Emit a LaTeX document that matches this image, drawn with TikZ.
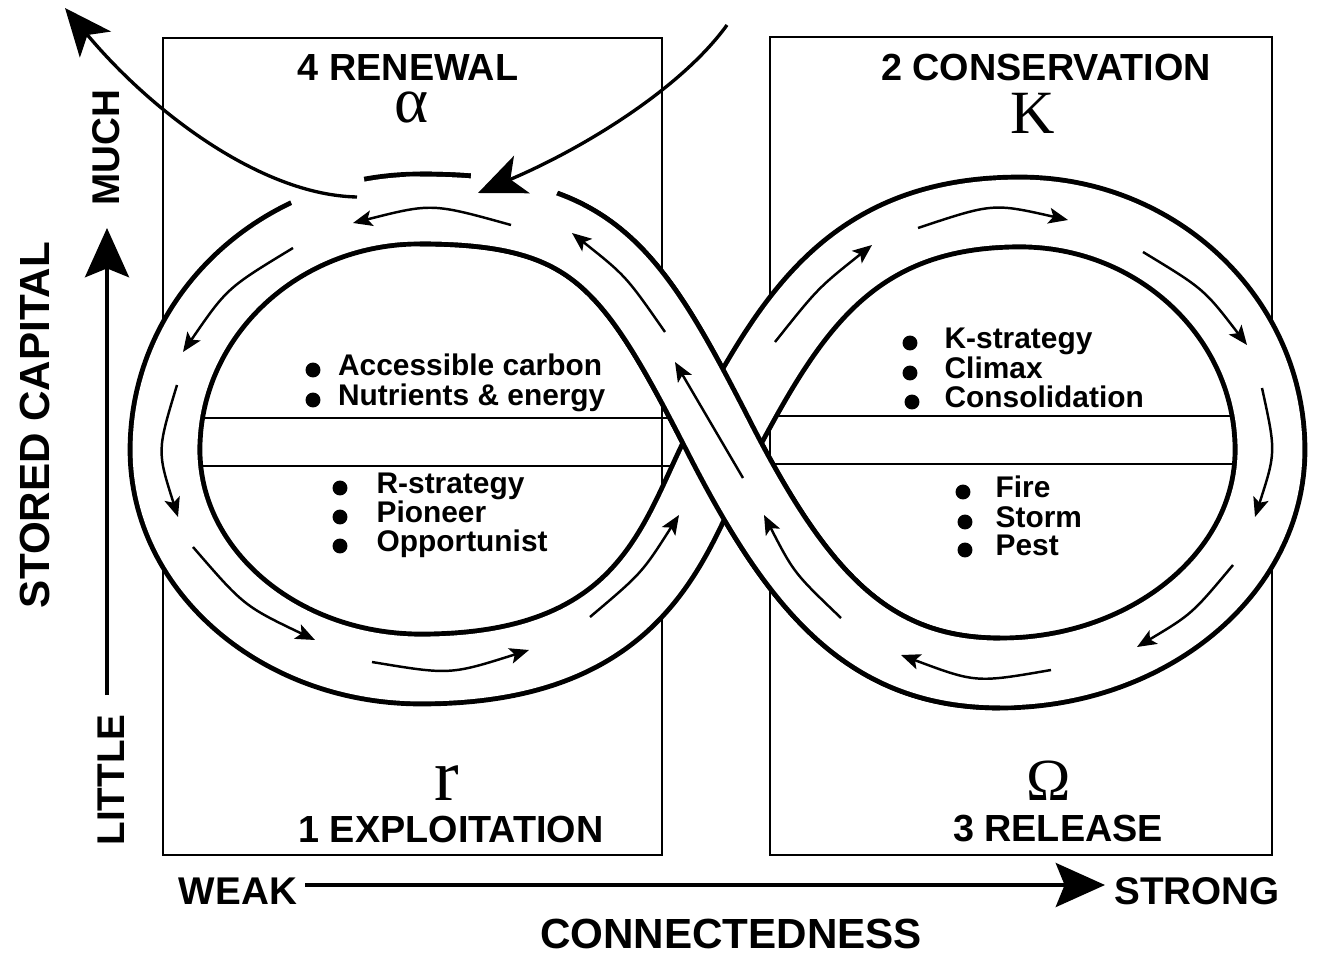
\documentclass[tikz,border=0pt]{standalone}
\usepackage{fontspec}
\usetikzlibrary{arrows.meta, positioning}
\newfontfamily\hv{Liberation Sans}
\newfontfamily\tm{Liberation Serif}
\tikzset{
	phasebox/.style ={draw=black, line width=1.5pt},
	zoneline/.style ={draw=black, line width=1.3pt},
	loopband/.style ={draw=black, line width=2.8pt, double=white, double distance=36.9pt},
	bandrim/.style  ={draw=black, line width=42.5pt},
	bandcore/.style ={draw=white, line width=36.9pt},
	gapcut/.style   ={draw=white, line width=5.5pt},
	flowarrow/.style={line width=1.4pt, -{Stealth[length=11pt, width=9pt, inset=2.5pt]}},
	bigarrow/.style ={line width=1.9pt, -{Stealth[length=27pt, width=23pt, inset=7pt]}},
	axisarrow/.style={line width=2.4pt, -{Stealth[length=28pt, width=25pt, inset=5pt]}},
	phasehead/.style={font=\hv\bfseries\fontsize{21.5}{24}\selectfont, inner sep=0pt},
	axislabel/.style={font=\hv\bfseries\fontsize{22}{24}\selectfont, inner sep=0pt},
	axistitle/.style={font=\hv\bfseries\fontsize{24}{26}\selectfont, inner sep=0pt},
	greek/.style    ={inner sep=0pt},
	bulletdot/.style={circle, fill=black, minimum size=8.5pt, inner sep=0pt},
	listitem/.style ={font=\hv\bfseries\fontsize{17}{19}\selectfont, inner sep=0pt, text height=1.38ex, text depth=0pt},
}

\begin{document}
\begin{tikzpicture}[x=0.02cm, y=-0.02cm]
	\useasboundingbox (0,0) rectangle (1322,956);
	% phase boxes and zone lines
	\draw[phasebox] (163,38) rectangle (662,855);
	\draw[phasebox] (770,37) rectangle (1272,855);
	\draw[zoneline] (195,418) -- (700,418);
	\draw[zoneline] (195,466) -- (700,466);
	\draw[zoneline] (745,416) -- (1250,416);
	\draw[zoneline] (745,464) -- (1250,464);
	% figure eight, whole band then the strand on top
	\draw[loopband] (420,209) .. controls (279,209) and (165,317) .. (165,450)
		.. controls (165,571) and (280,669) .. (421,669)
		.. controls (651,669) and (675,531) .. (722,443)
		.. controls (790,315) and (850,212) .. (1020,212)
		.. controls (1158,212) and (1270,319) .. (1270,450)
		.. controls (1270,573) and (1149,673) .. (1000,673)
		.. controls (870,673) and (800,594) .. (722,443)
		.. controls (631,265) and (595,209) .. cycle;
	\draw[bandrim] (1000,673) .. controls (870,673) and (800,594) .. (722,443)
		.. controls (631,265) and (595,209) .. (420,209);
	\draw[bandcore] (1014,673) -- (1000,673) .. controls (870,673) and (800,594) .. (722,443)
		.. controls (631,265) and (595,209) .. (420,209) -- (406,209);
	% openings in the outer rim
	\draw[gapcut] (291,202) .. controls (315,192) and (340,183) .. (364,179);
	\draw[gapcut] (471,176) .. controls (488,177) and (543,186) .. (557,193);
	% flow inside the loop
	\draw[flowarrow] (511,225) .. controls (432,203) .. (353,223);
	\draw[flowarrow] (293,248) .. controls (227,288) .. (183,352);
	\draw[flowarrow] (177,385) .. controls (157,451) .. (178,517);
	\draw[flowarrow] (193,547) .. controls (244,606) .. (315,640);
	\draw[flowarrow] (372,662) .. controls (450,675) .. (529,650);
	\draw[flowarrow] (590,617) .. controls (642,573) .. (679,515);
	\draw[flowarrow] (775,342) .. controls (818,288) .. (872,245);
	\draw[flowarrow] (918,228) .. controls (993,203) .. (1068,220);
	\draw[flowarrow] (1143,252) .. controls (1204,289) .. (1247,345);
	\draw[flowarrow] (1262,388) .. controls (1276,452) .. (1255,517);
	\draw[flowarrow] (1233,565) .. controls (1192,614) .. (1137,647);
	\draw[flowarrow] (1051,670) .. controls (976,683) .. (901,655);
	\draw[flowarrow] (841,618) .. controls (794,573) .. (764,515);
	\draw[flowarrow] (743,478) -- (675,362);
	\draw[flowarrow] (665,332) .. controls (626,276) .. (572,233);
	% exit and entry
	\coordinate (exitfrom) at (357,197);
	\coordinate (exitto) at (65,8);
	\coordinate (entryfrom) at (727,25);
	\coordinate (entryto) at (478,193);
	\draw[bigarrow] (exitfrom) .. controls (260,195) and (150,110) .. (exitto);
	\draw[bigarrow] (entryfrom) .. controls (680,90) and (580,150) .. (entryto);
	% phase labels
	\node[phasehead] (renewal) at (408,68) {4 RENEWAL};
	\node[greek, font=\tm\fontsize{37}{37}\selectfont] (alpha) at (412,107) {α};
	\node[phasehead] (conserv) at (1046,67) {2 CONSERVATION};
	\node[greek, font=\tm\fontsize{35}{35}\selectfont] (kay) at (1033,113) {K};
	\node[greek, font=\tm\fontsize{42}{42}\selectfont] (arr) at (447,783) {r};
	\node[phasehead] (exploit) at (451,829) {1 EXPLOITATION};
	\node[greek, font=\tm\fontsize{34}{34}\selectfont] (omega) at (1049,781) {Ω};
	\node[phasehead] (release) at (1058,829) {3 RELEASE};
	% lists
	\node[bulletdot] (d1) at (313,370) {};
	\node[listitem, right=0.34cm of d1] (t1) {Accessible carbon};
	\node[bulletdot] (d2) at (313,400) {};
	\node[listitem, right=0.34cm of d2] (t2) {Nutrients \& energy};
	\node[bulletdot] (d3) at (340,488) {};
	\node[listitem, right=0.57cm of d3] (t3) {R-strategy};
	\node[bulletdot] (d4) at (340,517) {};
	\node[listitem, right=0.57cm of d4] (t4) {Pioneer};
	\node[bulletdot] (d5) at (340,546) {};
	\node[listitem, right=0.57cm of d5] (t5) {Opportunist};
	\node[bulletdot] (d6) at (910,343) {};
	\node[listitem, right=0.53cm of d6] (t6) {K-strategy};
	\node[bulletdot] (d7) at (910,373) {};
	\node[listitem, right=0.53cm of d7] (t7) {Climax};
	\node[bulletdot] (d8) at (912,402) {};
	\node[listitem, right=0.49cm of d8] (t8) {Consolidation};
	\node[bulletdot] (d9) at (963,492) {};
	\node[listitem, right=0.49cm of d9] (t9) {Fire};
	\node[bulletdot] (d10) at (965,522) {};
	\node[listitem, right=0.45cm of d10] (t10) {Storm};
	\node[bulletdot] (d11) at (965,550) {};
	\node[listitem, right=0.45cm of d11] (t11) {Pest};
	% axes
	\node[axislabel] (weak) at (238,891) {WEAK};
	\node[axislabel] (strong) at (1197,891) {STRONG};
	\node[axistitle] (connect) at (731,934) {CONNECTEDNESS};
	\node[axislabel, rotate=90] (little) at (111,780) {LITTLE};
	\node[axislabel, rotate=90] (much) at (106,148) {MUCH};
	\node[axistitle, rotate=90] (stored) at (35,425) {STORED CAPITAL};
	\coordinate (hfrom) at (305,885);
	\coordinate (hto) at (1105,885);
	\coordinate (vfrom) at (107,695);
	\coordinate (vto) at (107,228);
	\draw[axisarrow] (hfrom) -- (hto);
	\draw[axisarrow] (vfrom) -- (vto);
\end{tikzpicture}
\end{document}
